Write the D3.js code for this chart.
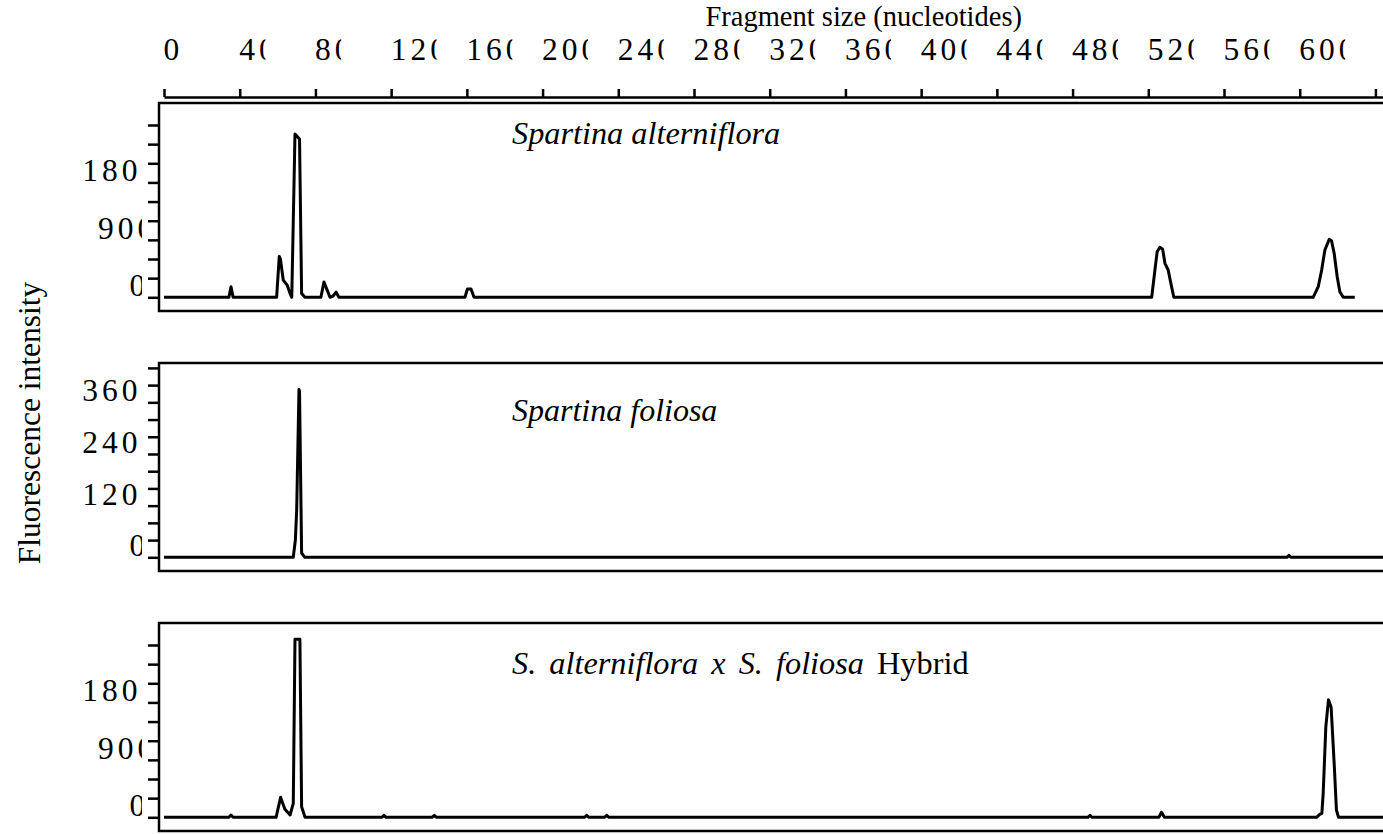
<!DOCTYPE html>
<html>
<head>
<meta charset="utf-8">
<script src="https://cdn.jsdelivr.net/npm/d3@7"></script>
<style>
body { margin: 0; background: #fff; }
svg text { font-family: "Liberation Serif", "Times New Roman", serif; fill: #000; }
</style>
</head>
<body>
<svg id="chart" width="1383" height="834"></svg>
<script>
// top axis (fragment size, nucleotides)
var sizeTicks  = [0, 40, 80, 120, 160, 200, 240, 280, 320, 360, 400, 440, 480, 520, 560, 600, 640];
var sizeLabels = [0, 40, 80, 120, 160, 200, 240, 280, 320, 360, 400, 440, 480, 520, 560, 600];

// Spartina alterniflora
var altSize  = [0, 34.3, 35.4, 36.5, 59.5, 60.9, 61.5, 63.0, 65.1, 66.6, 67.5, 69.2, 71.6, 72.7, 74.5,
                82.9, 84.5, 86.1, 87.7, 89.3, 90.9, 92.4, 159.0, 160.3, 162.2, 163.8,
                521.8, 523.5, 524.7, 526.1, 527.6, 528.8, 530.5, 532.3, 533.5,
                607.1, 609.8, 611.6, 613.3, 615.6, 616.8, 618.2, 619.8, 621.2, 623.0, 629.1];
var altValue = [0, 0, 166, 0, 0, 640, 600, 270, 190, 60, 0, 2560, 2480, 60, 0,
                0, 240, 120, 0, 20, 80, 0, 0, 130, 130, 0,
                0, 427, 715, 783, 752, 533, 428, 166, 0,
                0, 166, 428, 741, 909, 887, 690, 323, 88, 0, 0];
var altTicks  = [0, 300, 600, 900, 1200, 1500, 1800, 2100, 2400, 2700];
var altLabels = [0, 900, 1800];

// Spartina foliosa
var folSize  = [0, 68.3, 69.4, 70.1, 71.3, 71.6, 72.7, 74.4, 593.2, 594.3, 595.3, 644];
var folValue = [0, 0, 400, 1100, 3900, 3850, 100, 0, 0, 45, 0, 0];
var folTicks  = [0, 400, 800, 1200, 1600, 2000, 2400, 2800, 3200, 3600, 4000, 4400];
var folLabels = [0, 1200, 2400, 3600];

// S. alterniflora x S. foliosa hybrid
var hybSize  = [0, 34.3, 35.4, 36.5, 59.2, 61.6, 62.7, 63.9, 66.6, 68.3, 69.2, 71.8, 72.7, 74.5,
                115.2, 116.2, 117.3, 141.6, 142.8, 144.0, 222.1, 223.3, 224.5, 232.7, 233.9, 235.1,
                488.1, 489.2, 490.2, 525.6, 527.0, 528.5,
                608.9, 610.7, 611.7, 612.4, 613.8, 615.2, 616.6, 618.2, 619.4, 620.5, 644];
var hybValue = [0, 0, 36, 0, 0, 313, 219, 125, 36, 219, 2790, 2790, 166, 0,
                0, 30, 0, 0, 30, 0, 0, 30, 0, 0, 30, 0,
                0, 30, 0, 0, 78, 0,
                0, 50, 60, 376, 1420, 1840, 1725, 846, 114, 0, 0];
var hybTicks  = [0, 300, 600, 900, 1200, 1500, 1800, 2100, 2400, 2700];
var hybLabels = [0, 900, 1800];

var fontSize = 31.5;
var digitW = 15.75;   // natural digit advance
var spacing = 4;      // letter spacing used by the labels

var svg = d3.select("#chart");
var x = d3.scaleLinear().domain([0, 644]).range([164, 1383]);

drawTopAxis();
drawPanel({top: 103, size: altSize, value: altValue, ticks: altTicks, labels: altLabels, ymax: 2700, yspan: 172.3});
drawPanel({top: 363, size: folSize, value: folValue, ticks: folTicks, labels: folLabels, ymax: 4400, yspan: 189.4});
drawPanel({top: 623, size: hybSize, value: hybValue, ticks: hybTicks, labels: hybLabels, ymax: 2700, yspan: 172.3});
drawTitles();

function drawTopAxis(){
	var defs = svg.append("defs");
	[1, 2, 3].forEach(function(n){
		defs.append("clipPath").attr("id", "topClip" + n)
			.append("rect")
				.attr("x", -6)
				.attr("y", -90)
				.attr("width", (n == 1 ? 30 : (n - 1) * (digitW + spacing) + 5.5) + 6)
				.attr("height", 90);
	});
	defs.append("clipPath").attr("id", "yClip")
		.append("rect")
			.attr("x", -200)
			.attr("y", -40)
			.attr("width", 200 - 17)
			.attr("height", 80);

	var axis = d3.axisTop(x)
		.tickValues(sizeTicks)
		.tickSize(8)
		.tickSizeOuter(0)
		.tickFormat(function(d){ return sizeLabels.indexOf(d) >= 0 ? d : ""; });

	var g = svg.append("g").attr("transform", "translate(0,97)").call(axis);
	g.select(".domain").attr("stroke", "#000").attr("stroke-width", 2.5);
	g.selectAll(".tick line").attr("stroke", "#000").attr("stroke-width", 2.5);
	g.selectAll(".tick text")
		.attr("text-anchor", "start")
		.attr("font-size", fontSize)
		.attr("letter-spacing", spacing)
		.attr("x", -1)
		.attr("y", -37)
		.attr("dy", null)
		.attr("clip-path", function(d){ return "url(#topClip" + String(d).length + ")"; });
}

function drawPanel(p){
	var base = p.top + 194.3;
	var y = d3.scaleLinear().domain([0, p.ymax]).range([base, base - p.yspan]);

	svg.append("rect")
		.attr("x", 159)
		.attr("y", p.top)
		.attr("width", 1400)
		.attr("height", 208)
		.attr("fill", "none")
		.attr("stroke", "#000")
		.attr("stroke-width", 2.5);

	var axis = d3.axisLeft(y)
		.tickValues(p.ticks)
		.tickSize(11)
		.tickSizeOuter(0)
		.tickFormat(function(d){ return p.labels.indexOf(d) >= 0 ? d : ""; });

	var g = svg.append("g").attr("transform", "translate(159,0)").call(axis);
	g.select(".domain").remove();
	g.selectAll(".tick line").attr("stroke", "#000").attr("stroke-width", 2.5);
	g.selectAll(".tick text")
		.attr("text-anchor", "start")
		.attr("font-size", fontSize)
		.attr("letter-spacing", spacing)
		.attr("x", function(d){ return 145.2 - String(d).length * digitW - 159; })
		.attr("y", -1.5)
		.attr("dy", null)
		.attr("clip-path", "url(#yClip)");

	var line = d3.line()
		.x(function(d){ return x(d[0]); })
		.y(function(d){ return y(d[1]); });

	svg.append("path")
		.datum(d3.zip(p.size, p.value))
		.attr("d", line)
		.attr("fill", "none")
		.attr("stroke", "#000")
		.attr("stroke-width", 3)
		.attr("stroke-linejoin", "round");
}

function drawTitles(){
	svg.append("text")
		.attr("x", 1022)
		.attr("y", 25.5)
		.attr("text-anchor", "end")
		.attr("font-size", 28.5)
		.text("Fragment size (nucleotides)");

	svg.append("text")
		.attr("transform", "translate(40,423) rotate(-90)")
		.attr("text-anchor", "middle")
		.attr("font-size", fontSize)
		.text("Fluorescence intensity");

	svg.append("text")
		.attr("x", 512).attr("y", 144)
		.attr("font-size", 32.3)
		.attr("font-style", "italic")
		.text("Spartina alterniflora");

	svg.append("text")
		.attr("x", 512).attr("y", 421)
		.attr("font-size", 32)
		.attr("font-style", "italic")
		.text("Spartina foliosa");

	var t = svg.append("text")
		.attr("x", 512).attr("y", 674)
		.attr("font-size", 32.3)
		.attr("word-spacing", 5);
	t.append("tspan").attr("font-style", "italic").text("S. alterniflora x S. foliosa");
	t.append("tspan").text(" Hybrid");
}
</script>
</body>
</html>
